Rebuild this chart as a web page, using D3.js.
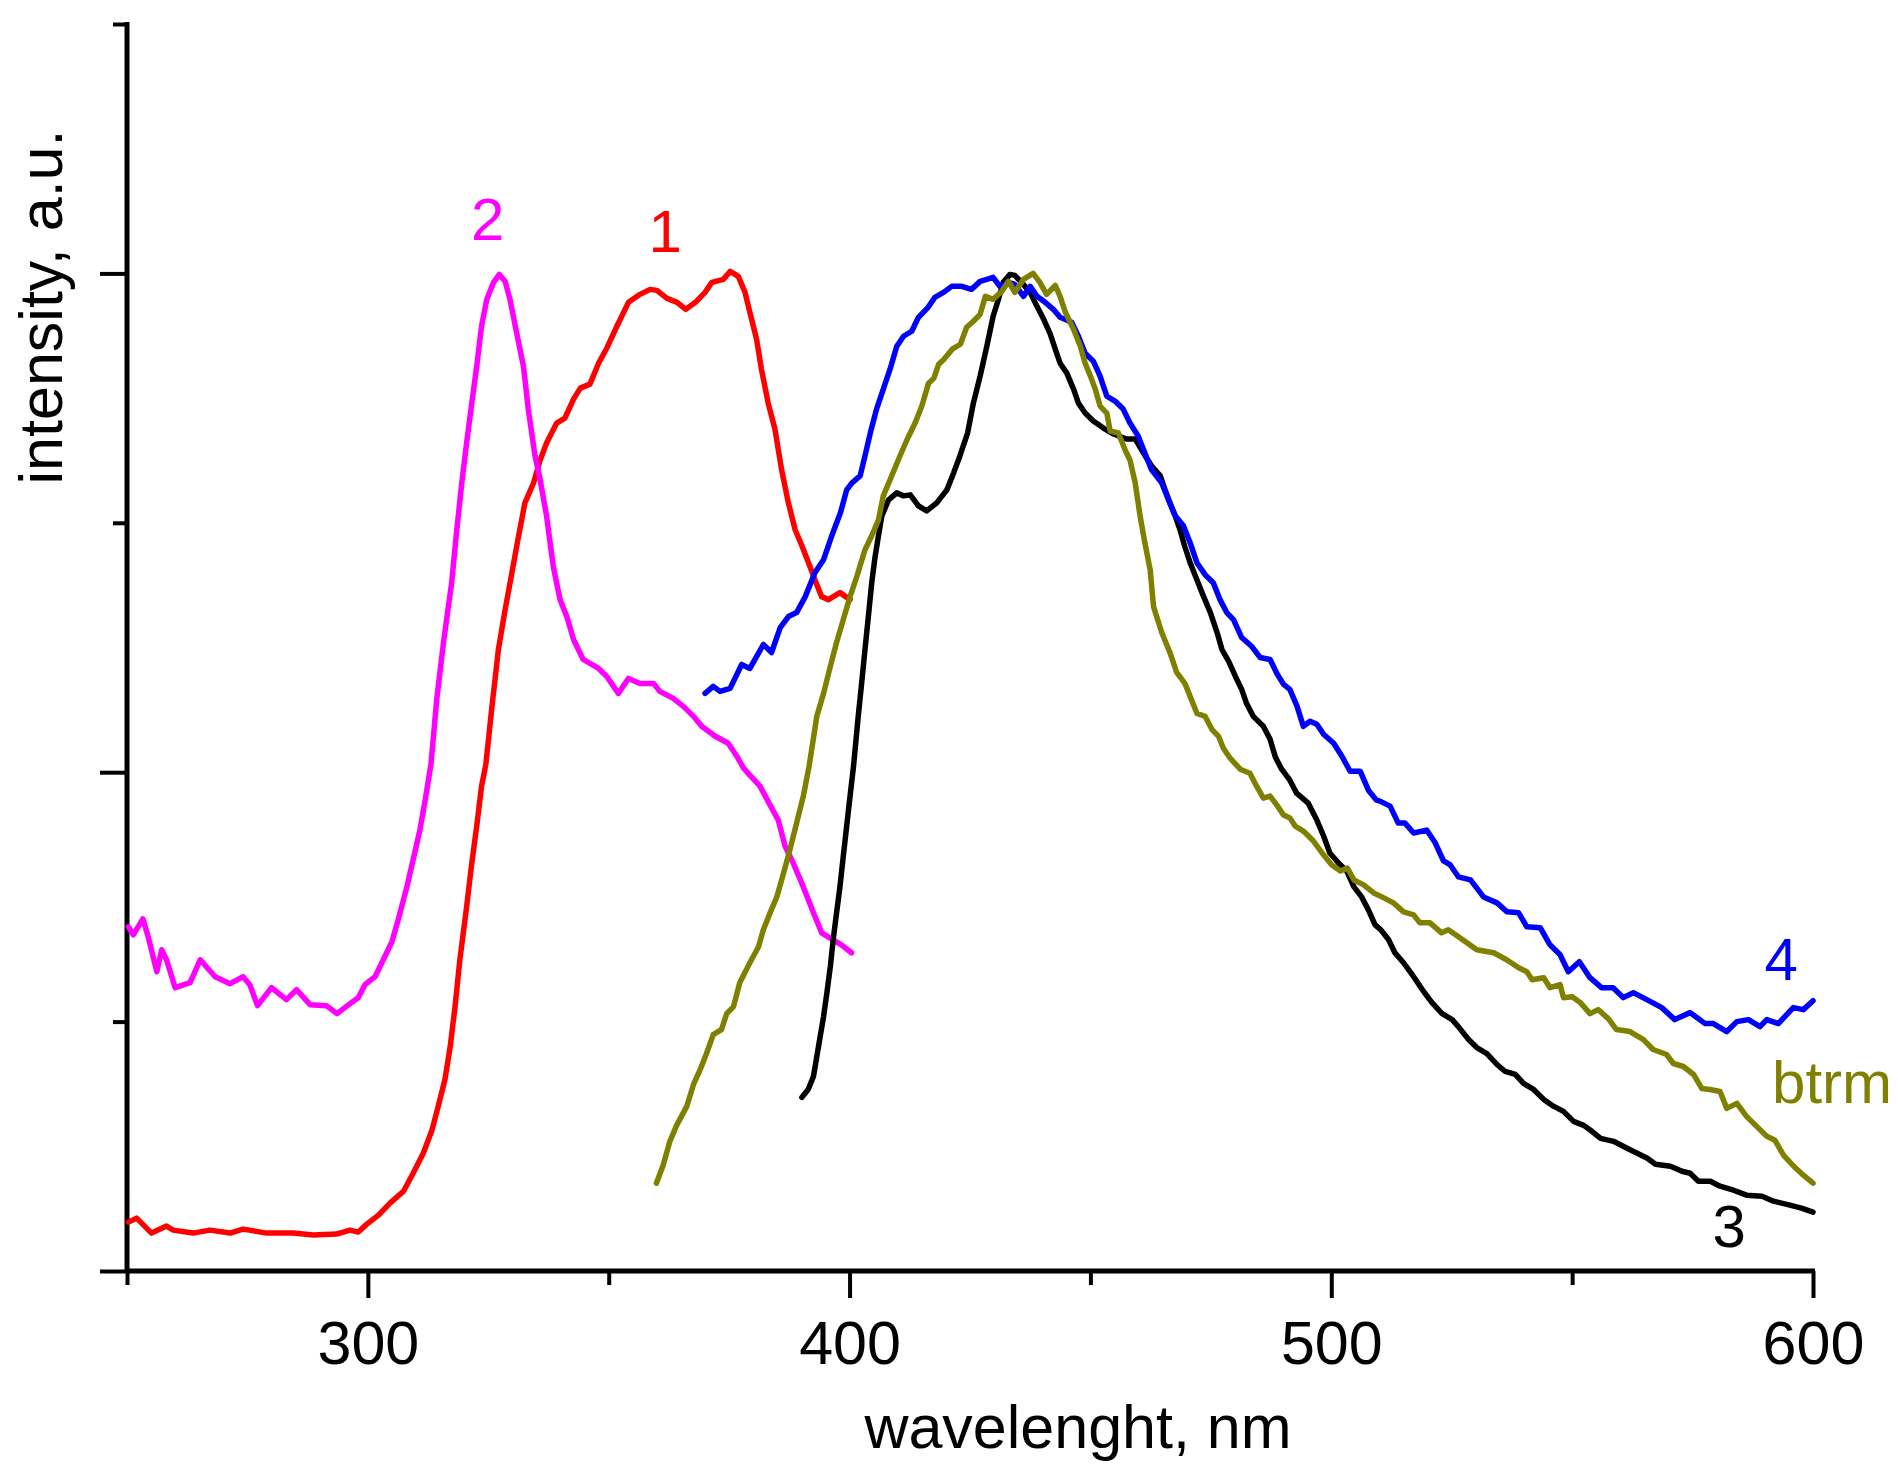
<!DOCTYPE html>
<html>
<head>
<meta charset="utf-8">
<script src="https://cdn.jsdelivr.net/npm/d3@7"></script>
<style>
  html, body { margin: 0; padding: 0; background: #fff; }
  svg { display: block; }
  text { font-family: "Liberation Sans", Arial, sans-serif; }
</style>
</head>
<body>
<svg id="chart" width="1898" height="1474"></svg>
<script>
// ---------------- data (wavelength nm, normalized intensity) ----------------
const series1 = [[250.3,0.049],[252.0,0.053],[255.1,0.038],[258.2,0.045],[259.6,0.041],[263.7,0.038],[267.2,0.041],[271.4,0.038],[274.1,0.042],[279.0,0.038],[284.5,0.038],[288.7,0.036],[293.5,0.037],[296.3,0.041],[298.0,0.039],[299.8,0.047],[302.2,0.056],[304.6,0.068],[307.4,0.080],[309.4,0.098],[311.5,0.118],[313.3,0.141],[314.6,0.165],[316.0,0.192],[317.1,0.225],[318.1,0.265],[319.1,0.312],[320.5,0.365],[321.5,0.406],[322.6,0.446],[323.6,0.486],[324.5,0.508],[325.7,0.563],[327.1,0.623],[328.5,0.663],[329.9,0.700],[331.3,0.737],[332.6,0.770],[334.4,0.790],[335.7,0.812],[337.1,0.830],[339.2,0.850],[340.9,0.855],[342.7,0.874],[344.1,0.885],[346.1,0.889],[347.9,0.910],[349.6,0.925],[351.7,0.947],[354.1,0.971],[356.5,0.979],[358.6,0.984],[360.0,0.983],[362.1,0.975],[364.2,0.971],[366.0,0.964],[368.0,0.971],[370.0,0.981],[371.4,0.991],[373.8,0.994],[375.2,1.002],[376.9,0.997],[378.3,0.981],[379.3,0.961],[380.7,0.934],[381.7,0.904],[383.1,0.870],[384.5,0.844],[385.9,0.803],[387.3,0.770],[388.7,0.743],[390.1,0.727],[391.4,0.711],[392.8,0.693],[394.2,0.676],[395.6,0.673],[398.0,0.680],[400.1,0.673]];

const series2 = [[250.3,0.345],[251.3,0.337],[253.3,0.353],[254.4,0.335],[256.2,0.300],[257.2,0.322],[258.2,0.312],[260.0,0.284],[263.1,0.289],[265.2,0.312],[268.3,0.295],[271.4,0.288],[274.1,0.295],[275.5,0.287],[277.1,0.266],[280.0,0.284],[283.1,0.272],[285.2,0.282],[288.0,0.267],[291.4,0.266],[293.6,0.258],[296.3,0.268],[298.0,0.274],[299.4,0.287],[301.5,0.295],[303.2,0.312],[305.0,0.330],[306.3,0.352],[308.1,0.385],[309.4,0.412],[310.8,0.442],[311.9,0.472],[313.1,0.508],[314.3,0.573],[315.7,0.630],[317.4,0.690],[318.4,0.740],[319.5,0.790],[320.5,0.830],[321.5,0.867],[322.6,0.907],[323.6,0.947],[324.7,0.974],[326.1,0.991],[327.3,0.999],[328.5,0.992],[329.5,0.974],[330.9,0.940],[332.3,0.907],[333.3,0.864],[334.7,0.817],[335.7,0.795],[337.1,0.757],[338.5,0.706],[339.9,0.673],[341.3,0.656],[342.7,0.633],[344.7,0.613],[347.9,0.604],[349.6,0.596],[352.0,0.579],[354.1,0.594],[356.5,0.589],[359.3,0.589],[360.6,0.581],[363.4,0.574],[365.5,0.566],[367.6,0.556],[369.3,0.546],[372.1,0.536],[374.8,0.529],[376.6,0.516],[378.0,0.504],[379.3,0.497],[381.4,0.486],[383.5,0.467],[385.2,0.452],[386.6,0.426],[388.3,0.409],[390.4,0.385],[392.5,0.359],[394.2,0.339],[396.6,0.332],[398.3,0.327],[400.4,0.319]];

const series3 = [[390.1,0.174],[391.4,0.182],[392.5,0.195],[393.2,0.215],[393.9,0.235],[394.6,0.255],[395.3,0.279],[396.0,0.305],[396.6,0.332],[397.3,0.359],[398.0,0.385],[398.7,0.416],[399.4,0.446],[400.1,0.476],[400.8,0.505],[401.8,0.556],[402.5,0.589],[403.2,0.623],[403.9,0.656],[404.6,0.690],[405.3,0.716],[406.0,0.737],[406.7,0.757],[408.1,0.773],[409.8,0.780],[411.2,0.777],[412.6,0.778],[414.3,0.767],[416.0,0.762],[418.1,0.770],[420.2,0.783],[421.6,0.800],[422.9,0.817],[424.5,0.840],[425.7,0.870],[427.1,0.897],[428.5,0.927],[429.8,0.957],[430.9,0.974],[431.9,0.991],[433.3,0.999],[434.3,0.998],[435.7,0.991],[437.5,0.981],[438.9,0.967],[440.3,0.954],[441.6,0.940],[442.7,0.924],[443.7,0.910],[445.1,0.900],[446.5,0.884],[447.5,0.870],[448.9,0.860],[450.6,0.852],[452.7,0.845],[454.8,0.839],[457.5,0.834],[459.3,0.834],[461.0,0.820],[462.7,0.807],[464.5,0.797],[465.5,0.783],[466.5,0.770],[467.6,0.757],[468.6,0.743],[469.6,0.726],[470.7,0.710],[472.1,0.693],[473.5,0.676],[474.9,0.660],[476.3,0.640],[477.3,0.623],[478.7,0.611],[480.1,0.596],[481.4,0.583],[482.4,0.569],[483.8,0.556],[485.9,0.546],[487.3,0.533],[488.4,0.515],[489.7,0.503],[491.4,0.492],[492.8,0.479],[495.2,0.469],[497.0,0.452],[498.4,0.436],[499.7,0.419],[501.5,0.409],[503.2,0.401],[504.7,0.385],[506.3,0.375],[507.7,0.362],[509.1,0.347],[510.3,0.342],[511.9,0.332],[513.2,0.319],[515.0,0.309],[517.1,0.295],[519.2,0.280],[520.9,0.269],[523.0,0.258],[525.1,0.252],[526.7,0.243],[528.5,0.232],[530.2,0.224],[532.3,0.218],[534.4,0.207],[536.1,0.200],[538.2,0.197],[539.9,0.188],[542.0,0.182],[544.1,0.172],[546.2,0.165],[548.2,0.160],[550.3,0.150],[552.4,0.146],[554.1,0.140],[555.9,0.133],[558.6,0.130],[561.4,0.123],[563.5,0.118],[565.6,0.113],[567.3,0.107],[570.4,0.105],[572.8,0.100],[574.5,0.098],[576.2,0.090],[578.7,0.090],[580.7,0.085],[583.5,0.081],[586.2,0.076],[589.4,0.075],[591.8,0.070],[595.2,0.066],[597.6,0.063],[600.0,0.059]];

const series4 = [[370.0,0.579],[371.7,0.586],[373.1,0.581],[375.2,0.584],[377.6,0.608],[379.3,0.604],[382.1,0.628],[383.8,0.620],[385.6,0.645],[387.3,0.656],[389.0,0.660],[390.8,0.676],[392.8,0.700],[394.6,0.713],[396.3,0.737],[398.1,0.760],[399.4,0.783],[400.5,0.790],[402.2,0.797],[403.2,0.817],[404.3,0.840],[405.6,0.864],[407.0,0.884],[408.4,0.904],[409.8,0.927],[411.2,0.937],[412.9,0.942],[414.3,0.956],[416.3,0.966],[417.7,0.976],[419.5,0.981],[421.2,0.987],[423.3,0.987],[425.3,0.984],[427.1,0.992],[428.5,0.994],[429.8,0.996],[431.2,0.987],[433.0,0.991],[434.3,0.989],[436.1,0.977],[437.5,0.987],[438.9,0.977],[440.6,0.971],[442.3,0.964],[443.7,0.956],[446.1,0.951],[447.5,0.937],[448.9,0.920],[450.6,0.912],[452.0,0.897],[453.4,0.877],[455.1,0.872],[456.8,0.864],[458.2,0.850],[459.9,0.837],[461.3,0.820],[462.7,0.803],[464.8,0.790],[466.2,0.773],[467.6,0.757],[469.3,0.747],[470.7,0.730],[472.1,0.710],[473.8,0.698],[475.5,0.690],[476.9,0.673],[478.3,0.660],[479.7,0.653],[481.4,0.635],[483.5,0.626],[485.2,0.615],[487.3,0.613],[488.7,0.599],[490.1,0.588],[491.4,0.583],[492.9,0.566],[494.2,0.546],[495.6,0.551],[497.0,0.548],[498.4,0.538],[500.5,0.529],[502.2,0.516],[503.9,0.501],[506.0,0.501],[507.7,0.482],[509.4,0.472],[510.1,0.471],[512.2,0.466],[513.9,0.449],[515.3,0.449],[517.1,0.439],[519.8,0.442],[521.6,0.429],[523.3,0.411],[524.7,0.407],[526.4,0.395],[528.9,0.392],[531.6,0.375],[534.4,0.369],[536.5,0.360],[538.9,0.359],[540.6,0.345],[543.4,0.344],[545.4,0.327],[547.5,0.317],[549.2,0.300],[551.5,0.310],[553.7,0.294],[556.1,0.284],[558.5,0.284],[560.6,0.274],[562.7,0.279],[565.5,0.272],[568.6,0.264],[571.3,0.252],[574.5,0.259],[577.6,0.248],[579.3,0.248],[582.1,0.240],[584.2,0.250],[586.6,0.252],[589.0,0.245],[590.4,0.252],[592.8,0.248],[595.9,0.264],[598.0,0.262],[600.0,0.271]];

const seriesBtrm = [[359.9,0.088],[361.3,0.106],[362.7,0.130],[364.1,0.146],[366.2,0.165],[367.6,0.187],[369.0,0.202],[370.3,0.218],[371.7,0.237],[373.4,0.242],[374.5,0.258],[375.9,0.265],[377.2,0.289],[379.3,0.309],[381.1,0.325],[382.1,0.342],[383.5,0.359],[384.9,0.375],[386.3,0.399],[387.6,0.422],[389.0,0.449],[390.4,0.476],[391.6,0.506],[393.2,0.556],[394.6,0.579],[396.0,0.606],[397.3,0.630],[398.7,0.653],[400.1,0.676],[401.5,0.696],[403.2,0.723],[404.6,0.737],[406.0,0.753],[407.0,0.777],[408.4,0.793],[410.1,0.813],[411.9,0.833],[413.6,0.850],[415.0,0.867],[416.4,0.890],[417.5,0.895],[418.5,0.909],[419.6,0.914],[421.3,0.924],[423.0,0.929],[424.3,0.946],[425.7,0.952],[427.1,0.959],[428.2,0.977],[429.8,0.974],[431.6,0.982],[433.0,0.992],[434.3,0.981],[436.1,0.994],[438.1,1.000],[439.5,0.991],[440.9,0.979],[442.7,0.988],[443.7,0.977],[444.8,0.961],[446.5,0.944],[447.9,0.927],[448.9,0.910],[450.0,0.897],[451.0,0.884],[452.0,0.867],[453.4,0.860],[454.1,0.842],[455.8,0.840],[457.2,0.823],[458.2,0.813],[459.3,0.790],[460.3,0.757],[461.3,0.730],[462.4,0.703],[463.1,0.666],[464.8,0.640],[466.5,0.620],[467.9,0.600],[469.6,0.589],[470.7,0.576],[472.1,0.559],[473.8,0.556],[475.2,0.543],[476.6,0.536],[477.6,0.524],[479.0,0.514],[481.1,0.503],[483.1,0.499],[484.5,0.486],[485.9,0.474],[487.3,0.476],[488.7,0.467],[490.1,0.457],[491.4,0.454],[492.5,0.446],[494.2,0.441],[496.3,0.431],[498.1,0.419],[500.1,0.407],[501.9,0.401],[503.3,0.404],[504.7,0.392],[506.7,0.387],[508.8,0.379],[510.5,0.375],[512.9,0.369],[515.0,0.360],[517.1,0.357],[518.4,0.349],[520.5,0.349],[522.9,0.339],[524.3,0.342],[526.7,0.334],[530.2,0.322],[533.7,0.319],[536.4,0.312],[538.9,0.304],[540.6,0.300],[541.7,0.292],[544.1,0.294],[545.4,0.284],[547.5,0.287],[548.2,0.274],[550.0,0.275],[551.7,0.269],[553.7,0.258],[555.4,0.262],[557.5,0.253],[559.2,0.242],[562.0,0.240],[564.8,0.232],[566.8,0.222],[569.6,0.217],[571.0,0.208],[573.1,0.205],[575.2,0.197],[576.9,0.183],[578.6,0.182],[580.7,0.180],[582.1,0.163],[584.2,0.168],[586.2,0.155],[588.3,0.145],[590.4,0.135],[592.1,0.131],[593.9,0.116],[596.0,0.105],[598.0,0.096],[600.0,0.088]];

const xMajorTicks = [300, 400, 500, 600];
const xMinorTicks = [250, 350, 450, 550];
const yMajorTicks = [0, 0.5, 1.0];
const yMinorTicks = [0.25, 0.75, 1.25];

const curveLabels = [
  { text: "1", wl: 361.7, v: 1.021, color: "#FF0000" },
  { text: "2", wl: 324.9, v: 1.033, color: "#FF00FF" },
  { text: "3", wl: 582.6, v: 0.024, color: "#000000" },
  { text: "4", wl: 593.4, v: 0.292, color: "#0000FF" },
  { text: "btrm", wl: 591.5, v: 0.168, color: "#808000", anchor: "start" }
];

// ---------------- drawing ----------------
const svg = d3.select("#chart");
const x = d3.scaleLinear().domain([250, 600]).range([127, 1813]);
const y = d3.scaleLinear().domain([0, 1.25]).range([1271, 24]);

const FONT = 61;

// x ticks
const gx = svg.append("g").attr("transform", `translate(0,${y(0)})`);
gx.append("g").call(d3.axisBottom(x).tickValues(xMinorTicks).tickSize(14).tickFormat(""))
  .call(g => g.select(".domain").remove());
gx.append("g").call(d3.axisBottom(x).tickValues(xMajorTicks).tickSize(27).tickPadding(23)
  .tickFormat(d3.format("d")))
  .call(g => g.select(".domain").remove())
  .call(g => g.selectAll("text").attr("font-size", FONT).attr("fill", "#000")
    .attr("font-family", '"Liberation Sans", Arial, sans-serif'));
gx.selectAll(".tick line").attr("stroke", "#000").attr("stroke-width", 4);

// y ticks
const gy = svg.append("g").attr("transform", `translate(${x(250)},0)`);
gy.append("g").call(d3.axisLeft(y).tickValues(yMinorTicks).tickSize(14).tickFormat(""))
  .call(g => g.select(".domain").remove());
gy.append("g").call(d3.axisLeft(y).tickValues(yMajorTicks).tickSize(27).tickFormat(""))
  .call(g => g.select(".domain").remove());
gy.selectAll(".tick line").attr("stroke", "#000").attr("stroke-width", 4);

// axis lines
svg.append("line").attr("x1", x(250)).attr("x2", x(600) + 2).attr("y1", y(0)).attr("y2", y(0))
  .attr("stroke", "#000").attr("stroke-width", 5);
svg.append("line").attr("x1", x(250)).attr("x2", x(250)).attr("y1", y(0) + 2).attr("y2", y(1.25) - 2)
  .attr("stroke", "#000").attr("stroke-width", 5);

// curves
const line = d3.line().x(d => x(d[0])).y(d => y(d[1])).curve(d3.curveLinear);
const drawOrder = [
  { data: series1, color: "#FF0000" },
  { data: series2, color: "#FF00FF" },
  { data: series3, color: "#000000" },
  { data: series4, color: "#0000FF" },
  { data: seriesBtrm, color: "#808000" }
];
svg.append("g").selectAll("path").data(drawOrder).join("path")
  .attr("d", d => line(d.data))
  .attr("fill", "none")
  .attr("stroke", d => d.color)
  .attr("stroke-width", 5.5)
  .attr("stroke-linejoin", "round")
  .attr("stroke-linecap", "round");

// curve labels
svg.append("g").selectAll("text").data(curveLabels).join("text")
  .attr("x", d => x(d.wl))
  .attr("y", d => y(d.v))
  .attr("text-anchor", d => d.anchor || "middle")
  .attr("font-size", 60)
  .attr("fill", d => d.color)
  .text(d => d.text);

// axis titles
svg.append("text")
  .attr("x", 1078).attr("y", 1448)
  .attr("text-anchor", "middle")
  .attr("font-size", FONT)
  .attr("fill", "#000")
  .text("wavelenght, nm");

svg.append("text")
  .attr("transform", "translate(62,307) rotate(-90)")
  .attr("text-anchor", "middle")
  .attr("font-size", FONT)
  .attr("fill", "#000")
  .text("intensity, a.u.");
</script>
</body>
</html>
